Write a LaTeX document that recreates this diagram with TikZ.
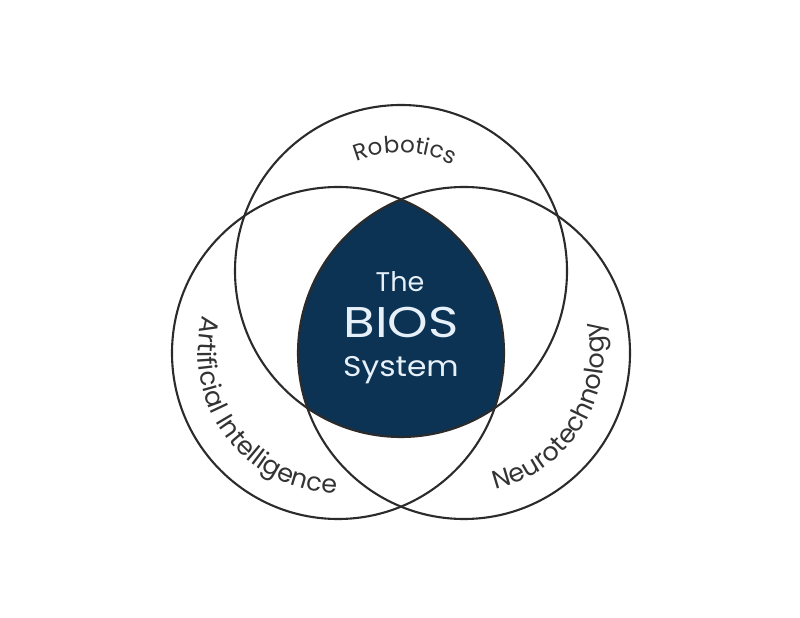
\documentclass[tikz,border=0pt]{standalone}
\usepackage{fontspec}
\setmainfont{Poppins}
\usetikzlibrary{decorations.text}
\definecolor{navy}{HTML}{0C3354}
\definecolor{ring}{HTML}{2B2B2B}
\definecolor{labelc}{HTML}{333333}
\definecolor{inner}{HTML}{E6F0F9}
\tikzset{
  ringline/.style={draw=ring, line width=2.1pt},
  arclabel/.style={decorate, decoration={text along path, text align=center, text color=labelc, text={#1}}},
  centertext/.style={text=inner, align=center, inner sep=0pt}
}
\begin{document}
\begin{tikzpicture}[x=1pt,y=1pt]
\useasboundingbox (0,0) rectangle (800,618);
\coordinate (T) at (401,347);
\coordinate (L) at (338,265);
\coordinate (R) at (464,265);
\begin{scope}
  \clip (T) circle (166);
  \clip (L) circle (166);
  \fill[navy] (R) circle (166);
\end{scope}
\draw[ringline] (T) circle (166);
\draw[ringline] (L) circle (166);
\draw[ringline] (R) circle (166);
\node[centertext, font=\fontsize{27}{27}\selectfont] (the) at (400,336) {The};
\node[centertext, font=\fontsize{43}{43}\selectfont, xscale=1.2] (bios) at (401,296) {BIOS};
\node[centertext, font=\fontsize{28.5}{28.5}\selectfont, xscale=1.1] (sys) at (401,248) {System};
\path[arclabel={|\fontsize{23}{23}\selectfont|Robotics}] (T) ++(148:118) arc (148:28:118);
\path[arclabel={|\fontsize{25.5}{25.5}\selectfont|Artificial Intelligence}] (L) ++(121:140) arc (121:313:140);
\path[arclabel={|\fontsize{25.5}{25.5}\selectfont|Neurotechnology}] (R) ++(235:140) arc (235:421:140);
\end{tikzpicture}
\end{document}
